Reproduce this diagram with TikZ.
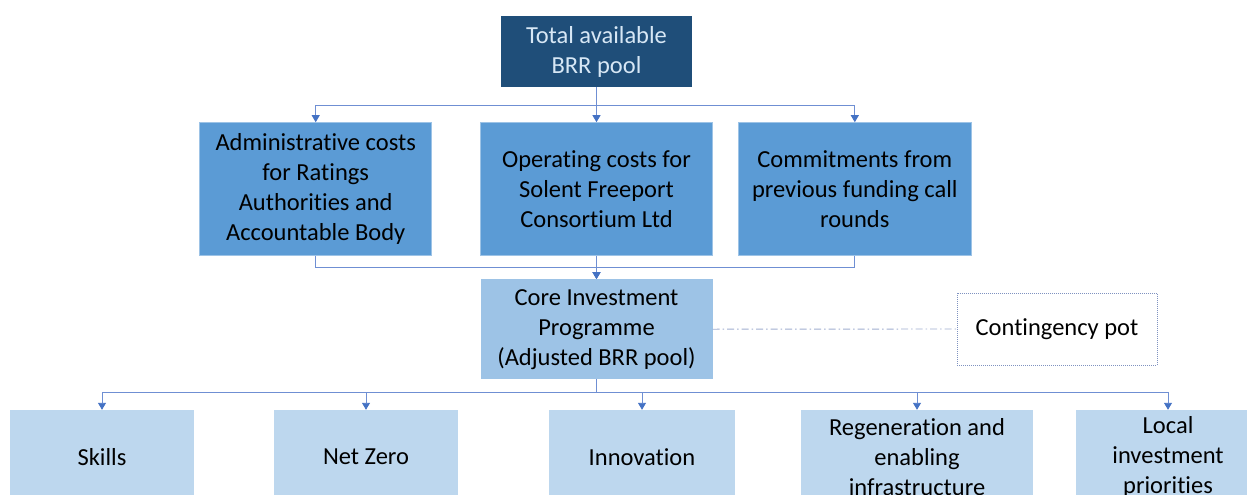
\documentclass[tikz,border=0pt]{standalone}
\usepackage{fontspec}
\setmainfont{Carlito}[RawFeature={-liga;-clig}]
\usetikzlibrary{arrows.meta}
\usetikzlibrary{positioning}

\definecolor{darkpool}{HTML}{1F4E79}
\definecolor{costblue}{HTML}{5B9BD5}
\definecolor{coreblue}{HTML}{9DC3E6}
\definecolor{themeblue}{HTML}{BDD7EE}
\definecolor{linkblue}{HTML}{6F8FD3}
\definecolor{tipblue}{HTML}{4472C4}
\definecolor{potgrey}{HTML}{7F92C0}

\begin{document}
\begin{tikzpicture}[x=1pt, y={(0pt,-1pt)},
    box/.style={rectangle, align=center, text=black, inner sep=0pt,
    font=\fontsize{24.5}{30}\selectfont},
    pool/.style={box, fill=darkpool, text=themeblue!60!white, minimum width=191pt, minimum height=71pt},
    cost/.style={box, fill=costblue, draw=coreblue, line width=0.8pt, minimum width=232pt, minimum height=133pt},
    core/.style={box, fill=coreblue, minimum width=232pt, minimum height=100pt},
    theme/.style={box, fill=themeblue, minimum width=184pt, minimum height=94pt},
    pot/.style={box, draw=potgrey, dash pattern=on 1pt off 1pt, line width=0.9pt, minimum width=200pt, minimum height=72pt},
    link/.style={draw=linkblue, line width=0.9pt, -{Triangle[width=8pt,length=7pt,color=tipblue]}},
    plain/.style={draw=linkblue, line width=0.9pt}]
    \useasboundingbox (0,0) rectangle (1247,495);
    \clip (0,0) rectangle (1247,495);

    \node (total) [pool] at (596.5,51.5) {Total available\\BRR pool};

    \node (opcost) [cost, below=35pt of total] {Operating costs for\\Solent Freeport\\Consortium Ltd};
    \node (admin) [cost, left=48pt of opcost] {Administrative costs\\for Ratings\\Authorities and\\Accountable Body};
    \node (commit) [cost, right=25pt of opcost, minimum width=233pt] {Commitments from\\previous funding call\\rounds};

    \node (core) [core, below=23pt of opcost] {Core Investment\\Programme\\(Adjusted BRR pool)};
    \node (cont) [pot] at (1057,329) {Contingency pot};

    \node (skills) [theme] at (102,457) {Skills};
    \node (netzero) [theme] at (366,457) {Net Zero};
    \node (innov) [theme, minimum width=186pt] at (642,457) {Innovation};
    \node (regen) [theme, minimum width=232pt] at (917,457) {Regeneration and\\enabling\\infrastructure};
    \node (local) [theme] at (1168,457) {Local\\investment\\priorities};

    % top pool split
    \draw [link] (total.south) -- ++(0,18) -| (admin.north);
    \draw [link] (total.south) -- (opcost.north);
    \draw [link] (total.south) -- ++(0,18) -| (commit.north);

    % costs taken off
    \draw [link] (admin.south) -- ++(0,11) -| (core.north);
    \draw [link] (opcost.south) -- (core.north);
    \draw [link] (commit.south) -- ++(0,11) -| (core.north);

    \draw [draw=potgrey!75, dash pattern=on 7pt off 3pt on 1.5pt off 3pt, line width=0.9pt] (core.east) -- (cont.west);

    % themes
    \foreach \t in {skills, netzero, innov, regen, local}
        \draw [link] (core.south) -- ++(0,13) -| (\t.north);
\end{tikzpicture}
\end{document}
